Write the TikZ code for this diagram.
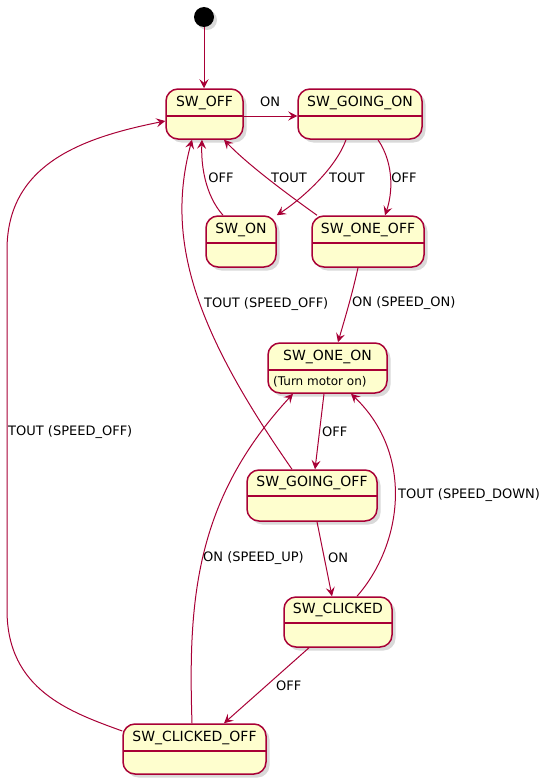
\documentclass[tikz,border=0pt]{standalone}
\usepackage{fontspec}
\setmainfont{DejaVu Sans}
\usetikzlibrary{arrows.meta,shadows,calc}
\definecolor{stfill}{HTML}{FEFECE}
\definecolor{stline}{HTML}{A80036}
\tikzset{
 stnode/.style={draw=stline, fill=stfill, line width=1.5pt, rounded corners=12pt, inner sep=0pt,
   drop shadow={shadow xshift=3.5pt,shadow yshift=-3.5pt,opacity=0.3}},
 divline/.style={draw=stline, line width=1.5pt},
 sttitle/.style={font=\fontsize{14}{16}\selectfont, inner sep=0pt},
 stdesc/.style={font=\fontsize{12}{14}\selectfont, inner sep=0pt, anchor=west},
 edge/.style={draw=stline, line width=1pt, -{Stealth[length=9pt,width=9pt,inset=3.5pt]}},
 elabel/.style={font=\fontsize{13}{15}\selectfont, inner sep=0pt},
}
\newcommand{\stbox}[7]{%
  \pgfmathsetmacro{\stw}{#4-#2}\pgfmathsetmacro{\sth}{#5-#3}%
  \pgfmathsetmacro{\stcx}{(#2+#4)/2}\pgfmathsetmacro{\stcy}{(#3+#5)/2}\pgfmathsetmacro{\stty}{(#3+#6)/2}%
  \node[stnode, minimum width=\stw pt, minimum height=\sth pt] (#1) at (\stcx,\stcy) {};
  \draw[divline] (#2,#6) -- (#4,#6);
  \node[sttitle] (#1-t) at (\stcx,\stty) {#7};
}
\begin{document}
\begin{tikzpicture}[x=1pt,y=-1pt]
\useasboundingbox (0,0) rectangle (548,784);
% start
\node[circle, fill=black, minimum size=20pt, inner sep=0pt, drop shadow={shadow xshift=3pt,shadow yshift=-3pt,opacity=0.3}] (start) at (204,17) {};
% states
\stbox{off}{166}{89}{243}{139}{116}{SW\_OFF}
\stbox{gon}{298}{89}{422}{139}{116}{SW\_GOING\_ON}
\stbox{on}{206}{216}{276}{267}{243}{SW\_ON}
\stbox{oneoff}{312}{216}{424}{267}{243}{SW\_ONE\_OFF}
\stbox{oneon}{268}{343}{387}{393}{370}{SW\_ONE\_ON}
\node[stdesc] (oneon-d) at (273,381.5) {(Turn motor on)};
\stbox{goff}{247}{470}{377}{521}{496}{SW\_GOING\_OFF}
\stbox{clk}{284}{597}{392}{647}{623}{SW\_CLICKED}
\stbox{clkoff}{123}{724}{266}{774}{751}{SW\_CLICKED\_OFF}
% waypoints
\coordinate (lw1) at (7,610);
\coordinate (lw2) at (7,250);
% edges
\draw[edge] (start.south) -- (start.south |- off.north);
\draw[edge] ([yshift=-2pt]off.east) -- ([yshift=-2pt]gon.west);
\node[elabel] (l-on) at (270,102) {ON};
\draw[edge] ([xshift=-14pt]gon.south) .. controls (335,170) and (300,200) .. (on.north east);
\node[elabel] (l-t1) at (347,178) {TOUT};
\draw[edge] ([xshift=18pt]gon.south) .. controls (395,165) and (392,195) .. ([xshift=17pt]oneoff.north);
\node[elabel] (l-o1) at (404,178) {OFF};
\draw[edge] ([xshift=-18pt]on.north) .. controls (205,195) and (201,165) .. ([xshift=-2.5pt]off.south);
\node[elabel] (l-o2) at (221,178) {OFF};
\draw[edge] ([xshift=-51pt]oneoff.north) .. controls (290,196) and (248,165) .. ([xshift=19.5pt]off.south);
\node[elabel] (l-t2) at (289,178) {TOUT};
\draw[edge] ([xshift=-10pt]oneoff.south) .. controls (352,295) and (345,318) .. ([xshift=10.5pt]oneon.north);
\node[elabel, anchor=west] (l-son) at (352,303) {ON (SPEED\_ON)};
\draw[edge] ([xshift=-20pt]goff.north) .. controls (195,330) and (165,240) .. ([xshift=-12.5pt]off.south);
\node[elabel, anchor=west] (l-soff) at (204,304) {TOUT (SPEED\_OFF)};
\draw[edge] ([xshift=-3.5pt]oneon.south) -- ([xshift=3pt]goff.north);
\node[elabel, anchor=west] (l-o3) at (322,432) {OFF};
\draw[edge] ([xshift=5pt]goff.south) -- ([xshift=-6pt]clk.north);
\node[elabel, anchor=west] (l-on2) at (328,558) {ON};
\draw[edge] ([xshift=19pt]clk.north) .. controls (402,545) and (415,455) .. ([xshift=23.5pt]oneon.south);
\node[elabel, anchor=west] (l-sdown) at (398,495) {TOUT (SPEED\_DOWN)};
\draw[edge] ([xshift=-2.5pt]clkoff.north) .. controls (188,600) and (195,500) .. ([xshift=-34.5pt]oneon.south);
\node[elabel, anchor=west] (l-sup) at (203,558) {ON (SPEED\_UP)};
\draw[edge] ([xshift=-29pt]clk.south) -- ([xshift=29.5pt]clkoff.north);
\node[elabel, anchor=west] (l-o4) at (276,686) {OFF};
\draw[edge] ([yshift=18pt]clkoff.west) .. controls (70,712) and (7,690) .. (lw1) -- (lw2) .. controls (7,165) and (80,138) .. ([yshift=-7pt]off.west);
\node[elabel, anchor=west] (l-soff2) at (8,432) {TOUT (SPEED\_OFF)};
\end{tikzpicture}
\end{document}
